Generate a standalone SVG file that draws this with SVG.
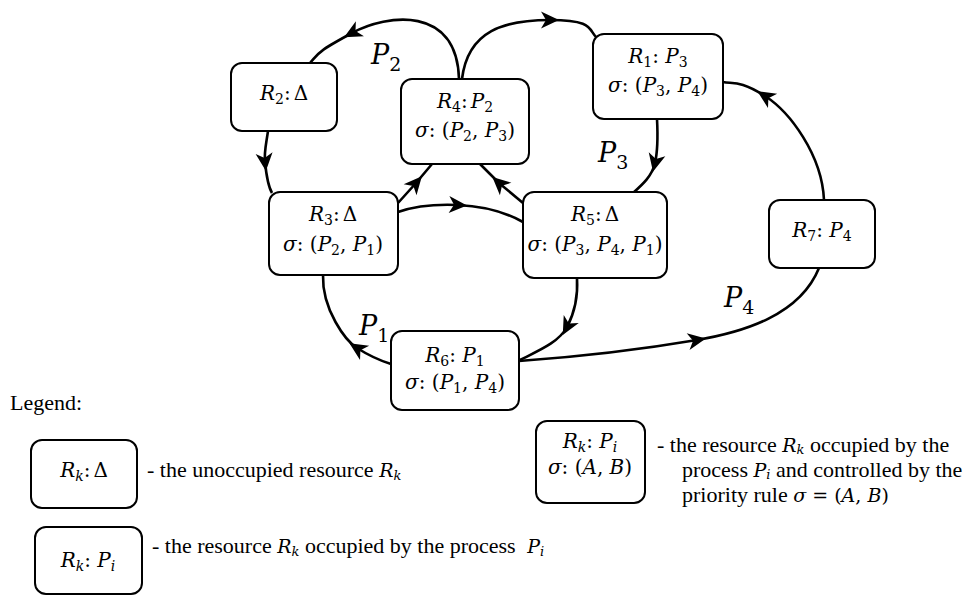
<svg xmlns="http://www.w3.org/2000/svg" width="976" height="595" viewBox="0 0 976 595">
<style>
.box{fill:#fff;stroke:#000;stroke-width:2}
.con{fill:none;stroke:#000;stroke-width:2.6;marker-mid:url(#ah)}
.m{font-family:"DejaVu Serif",serif;font-size:20px;fill:#000}
.i{font-style:italic}
.s{font-size:14px}
.lab{font-family:"DejaVu Serif",serif;font-size:27px;font-style:italic;fill:#000}
.ls{font-size:19px;font-style:normal}
.t{font-family:"Liberation Serif","Times New Roman",serif;font-size:22px;fill:#000}
.mi{font-family:"DejaVu Serif",serif;font-style:italic;font-size:19px}
.mn{font-family:"DejaVu Serif",serif;font-style:normal;font-size:19px}
.msub{font-family:"DejaVu Serif",serif;font-style:italic;font-size:13px}
</style>
<defs>
<marker id="ah" viewBox="-10 -9 20 18" refX="0" refY="0" markerWidth="20" markerHeight="18" markerUnits="userSpaceOnUse" orient="auto">
<path d="M9,0 L-9,-8.5 L-4,0 L-9,8.5 Z" fill="#000"/>
</marker>
</defs>
<rect width="976" height="595" fill="#fff"/>

<g id="connectors">
<path class="con" d="M459,79 C457,5 387,14 352,33 S320,52 310,63"/>
<path class="con" d="M462,79 C468,30 505,20 550,20 S588,30 597,38"/>
<path class="con" d="M268,131 C266,145 264,152 265,162 S268,186 272,193"/>
<path class="con" d="M657,119 C658,138 658,150 655,163 S643,184 633,193"/>
<path class="con" d="M398,203 L416,183 L432,164"/>
<path class="con" d="M523,203 L499,183 L480,164"/>
<path class="con" d="M398,212 C415,206 435,204 458,205 S505,212 523,222"/>
<path class="con" d="M391,364 C378,360 368,355 357,348 S322,310 323,275"/>
<path class="con" d="M577,278 C578,295 575,312 567,327 S540,350 520,360"/>
<path class="con" d="M519,361 C590,356 650,348 697,340 S800,315 819,268"/>
<path class="con" d="M824,200 C822,155 790,112 765,96 S733,84 723,82"/>
</g>

<g id="labels">
<text class="lab" x="371" y="64">P<tspan class="ls" dy="7">2</tspan></text>
<text class="lab" x="598" y="162">P<tspan class="ls" dy="7">3</tspan></text>
<text class="lab" x="359" y="335">P<tspan class="ls" dy="7">1</tspan></text>
<text class="lab" x="724" y="307">P<tspan class="ls" dy="7">4</tspan></text>
</g>

<g id="R2">
<rect class="box" x="231" y="63" width="106" height="68" rx="11"/>
<text class="m" x="284" y="100" text-anchor="middle"><tspan class="i">R</tspan><tspan class="s" dy="4">2</tspan><tspan dy="-4">:</tspan><tspan dx="3">Δ</tspan></text>
</g>
<g id="R4">
<rect class="box" x="401" y="79" width="128" height="85" rx="11"/>
<text class="m" x="465" y="108" text-anchor="middle"><tspan class="i">R</tspan><tspan class="s" dy="4">4</tspan><tspan dy="-4">:</tspan><tspan class="i" dx="3">P</tspan><tspan class="s" dy="4">2</tspan></text>
<text class="m" x="465" y="137" text-anchor="middle"><tspan class="i">σ</tspan>: (<tspan class="i">P</tspan><tspan class="s" dy="4">2</tspan><tspan dy="-4">, </tspan><tspan class="i">P</tspan><tspan class="s" dy="4">3</tspan><tspan dy="-4">)</tspan></text>
</g>
<g id="R1">
<rect class="box" x="593" y="34" width="130" height="85" rx="11"/>
<text class="m" x="658" y="63" text-anchor="middle"><tspan class="i">R</tspan><tspan class="s" dy="4">1</tspan><tspan dy="-4">: </tspan><tspan class="i">P</tspan><tspan class="s" dy="4">3</tspan></text>
<text class="m" x="658" y="92" text-anchor="middle"><tspan class="i">σ</tspan>: (<tspan class="i">P</tspan><tspan class="s" dy="4">3</tspan><tspan dy="-4">, </tspan><tspan class="i">P</tspan><tspan class="s" dy="4">4</tspan><tspan dy="-4">)</tspan></text>
</g>
<g id="R3">
<rect class="box" x="269" y="192" width="129" height="83" rx="11"/>
<text class="m" x="333" y="221" text-anchor="middle"><tspan class="i">R</tspan><tspan class="s" dy="4">3</tspan><tspan dy="-4">:</tspan><tspan dx="3">Δ</tspan></text>
<text class="m" x="333" y="251" text-anchor="middle"><tspan class="i">σ</tspan>: (<tspan class="i">P</tspan><tspan class="s" dy="4">2</tspan><tspan dy="-4">, </tspan><tspan class="i">P</tspan><tspan class="s" dy="4">1</tspan><tspan dy="-4">)</tspan></text>
</g>
<g id="R5">
<rect class="box" x="523" y="192" width="144" height="86" rx="11"/>
<text class="m" x="595" y="221" text-anchor="middle"><tspan class="i">R</tspan><tspan class="s" dy="4">5</tspan><tspan dy="-4">:</tspan><tspan dx="3">Δ</tspan></text>
<text class="m" x="595" y="251" text-anchor="middle"><tspan class="i">σ</tspan>: (<tspan class="i">P</tspan><tspan class="s" dy="4">3</tspan><tspan dy="-4">, </tspan><tspan class="i">P</tspan><tspan class="s" dy="4">4</tspan><tspan dy="-4">, </tspan><tspan class="i">P</tspan><tspan class="s" dy="4">1</tspan><tspan dy="-4">)</tspan></text>
</g>
<g id="R6">
<rect class="box" x="391" y="331" width="128" height="79" rx="11"/>
<text class="m" x="455" y="362" text-anchor="middle"><tspan class="i">R</tspan><tspan class="s" dy="4">6</tspan><tspan dy="-4">: </tspan><tspan class="i">P</tspan><tspan class="s" dy="4">1</tspan></text>
<text class="m" x="455" y="389" text-anchor="middle"><tspan class="i">σ</tspan>: (<tspan class="i">P</tspan><tspan class="s" dy="4">1</tspan><tspan dy="-4">, </tspan><tspan class="i">P</tspan><tspan class="s" dy="4">4</tspan><tspan dy="-4">)</tspan></text>
</g>
<g id="R7">
<rect class="box" x="769" y="200" width="106" height="68" rx="11"/>
<text class="m" x="822" y="237" text-anchor="middle"><tspan class="i">R</tspan><tspan class="s" dy="4">7</tspan><tspan dy="-4">: </tspan><tspan class="i">P</tspan><tspan class="s" dy="4">4</tspan></text>
</g>

<g id="legend">
<text class="t" x="10" y="410">Legend:</text>
<g id="legend-unoccupied">
<rect class="box" x="31" y="440" width="106" height="68" rx="11"/>
<text class="m" x="84" y="477" text-anchor="middle"><tspan class="i">R</tspan><tspan class="s i" dy="4">k</tspan><tspan dy="-4">:</tspan><tspan dx="3">Δ</tspan></text>
<text class="t" x="147" y="477">- the unoccupied resource <tspan class="mi">R</tspan><tspan class="msub" dy="3">k</tspan></text>
</g>
<g id="legend-occupied">
<rect class="box" x="35" y="527" width="107" height="67" rx="11"/>
<text class="m" x="88" y="567" text-anchor="middle"><tspan class="i">R</tspan><tspan class="s i" dy="4">k</tspan><tspan dy="-4">: </tspan><tspan class="i">P</tspan><tspan class="s i" dy="4">i</tspan></text>
<text class="t" x="152" y="553">- the resource <tspan class="mi">R</tspan><tspan class="msub" dy="3">k</tspan><tspan dy="-3"> occupied by the process </tspan><tspan class="mi" dx="6">P</tspan><tspan class="msub" dy="3">i</tspan></text>
</g>
<g id="legend-controlled">
<rect class="box" x="536" y="421" width="109" height="82" rx="11"/>
<text class="m" x="590" y="448" text-anchor="middle"><tspan class="i">R</tspan><tspan class="s i" dy="4">k</tspan><tspan dy="-4">: </tspan><tspan class="i">P</tspan><tspan class="s i" dy="4">i</tspan></text>
<text class="m" x="590" y="474" text-anchor="middle"><tspan class="i">σ</tspan>: (<tspan class="i">A</tspan>, <tspan class="i">B</tspan>)</text>
<text class="t" x="657" y="452">- the resource <tspan class="mi">R</tspan><tspan class="msub" dy="2">k</tspan><tspan dy="-2"> occupied by the</tspan></text>
<text class="t" x="682" y="477">process <tspan class="mi">P</tspan><tspan class="msub" dy="2">i</tspan><tspan dy="-2"> and controlled by the</tspan></text>
<text class="t" x="682" y="502">priority rule <tspan class="mi">σ</tspan><tspan class="mn"> = (</tspan><tspan class="mi">A</tspan><tspan class="mn">, </tspan><tspan class="mi">B</tspan><tspan class="mn">)</tspan></text>
</g>
</g>
</svg>
